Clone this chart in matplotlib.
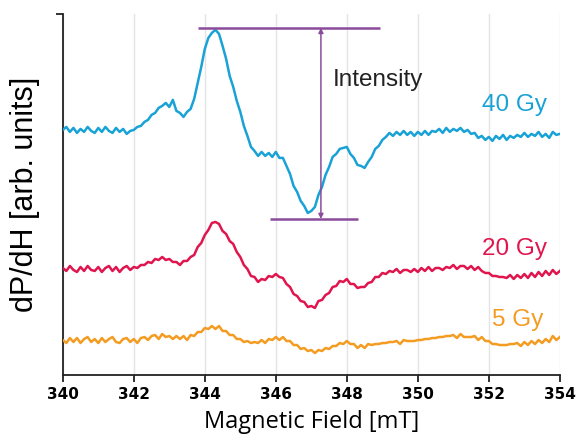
import numpy as np
import matplotlib
matplotlib.use("Agg")
import matplotlib.pyplot as plt

# EPR derivative spectra (arb. units, 0.1 mT steps)
gy40 = [245, 248, 243, 247, 242, 246, 243, 248, 244, 242,
        247, 243, 248, 244, 242, 247, 243, 246, 241, 244,
        245, 248, 249, 253, 255, 260, 262, 267, 269, 272,
        268, 275, 264, 262, 258, 263, 266, 276, 292, 308,
        326, 337, 342, 345, 341, 329, 316, 299, 288, 274,
        263, 249, 239, 228, 224, 219, 223, 219, 222, 218,
        223, 217, 217, 209, 201, 189, 183, 174, 169, 162,
        164, 168, 180, 188, 200, 208, 218, 221, 226, 227,
        228, 221, 217, 210, 209, 207, 213, 218, 226, 229,
        235, 238, 242, 239, 243, 240, 244, 240, 243, 239,
        243, 240, 244, 240, 244, 243, 246, 242, 247, 243,
        246, 244, 247, 243, 245, 241, 242, 237, 239, 235,
        238, 234, 239, 236, 240, 235, 239, 237, 240, 238,
        242, 238, 241, 239, 243, 238, 241, 237, 243, 240,
        241]

gy20 = [107, 104, 109, 105, 103, 108, 104, 109, 105, 104,
        108, 103, 107, 109, 104, 108, 103, 107, 109, 105,
        108, 107, 110, 110, 113, 112, 116, 115, 118, 115,
        116, 113, 113, 110, 114, 114, 118, 120, 128, 132,
        140, 145, 152, 153, 151, 144, 141, 134, 131, 123,
        118, 110, 106, 99, 98, 93, 96, 95, 99, 98,
        101, 98, 97, 91, 88, 81, 79, 74, 73, 68,
        69, 67, 74, 75, 80, 82, 88, 89, 94, 93,
        96, 91, 91, 87, 88, 88, 92, 93, 98, 98,
        102, 101, 104, 103, 106, 102, 105, 105, 103, 106,
        103, 107, 104, 108, 104, 107, 107, 105, 108, 107,
        110, 106, 109, 109, 106, 109, 105, 108, 104, 102,
        102, 99, 99, 98, 98, 97, 100, 96, 100, 97,
        101, 97, 102, 98, 103, 99, 104, 100, 105, 101,
        104]

gy5 = [35, 32, 37, 33, 37, 32, 36, 38, 33, 36,
       32, 37, 33, 36, 38, 33, 32, 36, 37, 33,
       36, 32, 37, 38, 35, 39, 40, 36, 41, 38,
       39, 36, 39, 36, 39, 35, 40, 39, 43, 43,
       47, 46, 49, 46, 49, 44, 44, 40, 40, 36,
       36, 33, 34, 32, 33, 32, 35, 32, 36, 35,
       38, 35, 38, 34, 34, 30, 30, 26, 27, 24,
       25, 22, 25, 24, 27, 26, 29, 29, 32, 31,
       34, 31, 31, 27, 30, 27, 31, 30, 31, 31,
       32, 32, 33, 33, 34, 31, 35, 34, 34, 34,
       35, 35, 36, 36, 37, 37, 38, 38, 39, 39,
       40, 37, 41, 38, 38, 38, 39, 35, 38, 34,
       34, 31, 31, 30, 30, 30, 31, 31, 32, 29,
       33, 30, 34, 31, 35, 32, 36, 33, 39, 35,
       38]

field = np.linspace(340, 354, len(gy40))
xticks = [340, 342, 344, 346, 348, 350, 352, 354]
doses = ["40 Gy", "20 Gy", "5 Gy"]
label_pos = [(352.72, 270), (352.72, 126), (352.8, 55)]

blue = "#19a2d6"
red = "#e0154e"
orange = "#f49c22"
purple = "#8a4b9b"
colors = [blue, red, orange]

fig = plt.figure(figsize=(5.76, 4.47), dpi=100)
ax = fig.add_axes([0.109, 0.161, 0.863, 0.808])

for spec, c in zip([gy40, gy20, gy5], colors):
    ax.plot(field, spec, color=c, lw=1.8, zorder=3)

for name, (x, y), c in zip(doses, label_pos, colors):
    ax.text(x, y, name, color=c, fontsize=17.5, ha="center", va="center",
            family="Liberation Sans")

# intensity marker
ax.hlines(347, 343.8, 348.93, color=purple, lw=1.8, zorder=4)
ax.hlines(156, 345.83, 348.31, color=purple, lw=1.8, zorder=4)
ax.annotate("", xy=(347.27, 347), xytext=(347.27, 156),
            arrowprops=dict(arrowstyle="<|-|>", color=purple, lw=1.1,
                            mutation_scale=7, shrinkA=0, shrinkB=0), zorder=4)
ax.text(348.87, 295, "Intensity", fontsize=17.5, color="#222222",
        ha="center", va="center", family="Liberation Sans")

ax.set_xlim(340, 354)
ax.set_ylim(0, 361)
ax.set_xticks(xticks)
ax.set_xticklabels([str(t) for t in xticks], family="Liberation Sans Narrow",
                   fontweight="bold", fontsize=11)
ax.set_yticks([361])
ax.set_yticklabels([])
ax.tick_params(axis="both", direction="out", length=5, width=1.3, color="#222222")
ax.grid(axis="x", color="#e4e4e4", lw=1.0, zorder=0)
for s in ["top", "right"]:
    ax.spines[s].set_visible(False)
for s in ["left", "bottom"]:
    ax.spines[s].set_linewidth(1.3)
    ax.spines[s].set_color("#222222")

ax.set_xlabel("Magnetic Field [mT]", family="Open Sans", fontsize=17, labelpad=6)
ax.set_ylabel("dP/dH [arb. units]", family="Liberation Sans", fontsize=22, labelpad=8)

fig.savefig("out.png", dpi=100)
